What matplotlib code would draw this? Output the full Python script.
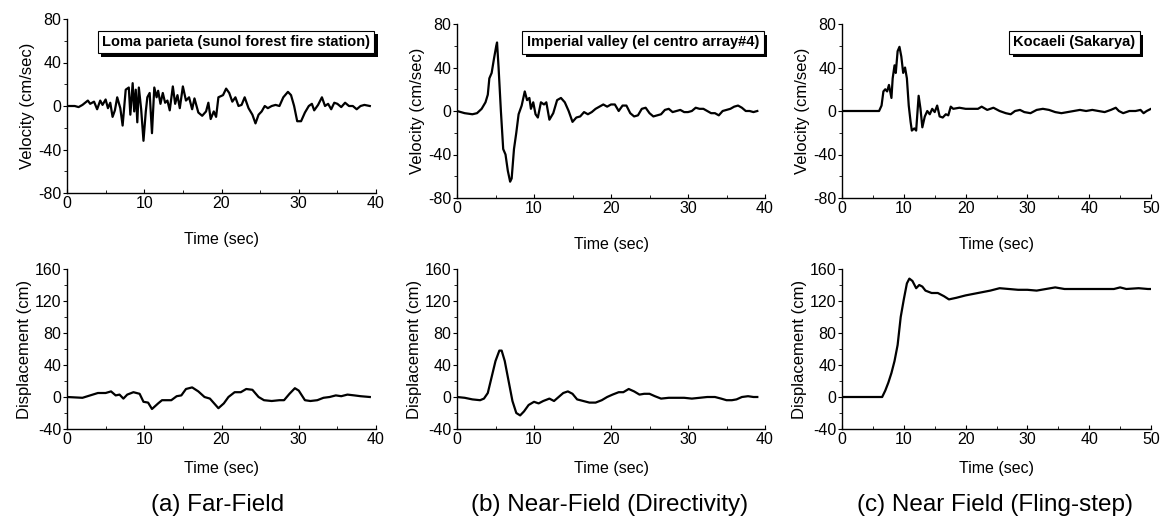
import matplotlib.pyplot as plt
import matplotlib.patheffects as pe
from matplotlib.ticker import MultipleLocator

plt.rcParams['font.family'] = ['Liberation Sans', 'DejaVu Sans']
plt.rcParams['axes.unicode_minus'] = False

# (a) far-field: Loma Prieta, velocity
t_a_vel = [0, 1, 1.5, 2, 2.7, 3, 3.5, 3.9, 4.3, 4.6, 5.0, 5.3, 5.6, 5.9, 6.2, 6.5, 6.9, 7.2, 7.6, 8.0,
           8.2, 8.5, 8.7, 8.9, 9.1, 9.3, 9.6, 9.9, 10.2, 10.4, 10.7, 11.0, 11.3, 11.6, 11.8, 12.1, 12.4,
           12.7, 13.0, 13.3, 13.7, 14.0, 14.3, 14.6, 15.0, 15.4, 15.8, 16.2, 16.5, 17.0, 17.5, 18.0,
           18.3, 18.6, 19.0, 19.3, 19.6, 20.2, 20.6, 21.0, 21.4, 21.8, 22.2, 22.6, 23.0, 23.5, 24.0,
           24.4, 24.8, 25.2, 25.6, 26.0, 26.5, 27.0, 27.5, 28.0, 28.6, 29.0, 29.4, 29.8, 30.3, 30.8,
           31.3, 31.7, 32.0, 32.5, 33.0, 33.4, 33.8, 34.2, 34.6, 35.0, 35.5, 36.0, 36.5, 37.0, 37.5,
           38.0, 38.5, 39.2]
v_a = [0, 0, -1, 1, 5, 2, 4, -3, 5, 1, 6, -2, 3, -10, -4, 8, -2, -18, 15, 17,
       -8, 21, -5, 15, -15, 17, -3, -32, -5, 8, 12, -25, 17, 8, 14, 2, 12,
       3, 5, -4, 18, 2, 10, -2, 18, 5, 8, -3, 7, -6, -9, -5,
       3, -12, -5, -10, 8, 10, 16, 12, 4, 8, 0, 1, 8, -2, -8,
       -16, -8, -5, 0, -2, 0, 1, 0, 8, 13, 10, 0, -14, -14, -6,
       0, 2, -4, 1, 8, 0, 2, -3, 3, 2, -1, 3, 0, 0, -3,
       0, 1, 0]

# (a) displacement
t_a_dis = [0, 2, 3, 4, 5, 5.7, 6.3, 6.8, 7.3, 7.8, 8.6, 9.4, 9.9, 10.5, 11.0, 11.8, 12.3, 13.5, 14.2,
           14.8, 15.4, 16.2, 17.0, 17.8, 18.5, 19.6, 20.3, 20.9, 21.7, 22.5, 23.2, 24.0, 24.8, 25.5,
           26.5, 27.5, 28.1, 28.8, 29.5, 30.0, 30.8, 31.5, 32.4, 33.2, 34.0, 34.8, 35.5, 36.3, 37.2,
           38.0, 39.2]
d_a = [0, -1, 2, 5, 5, 7, 2, 3, -2, 3, 6, 4, -6, -7, -15, -8, -4, -4, 1,
       2, 10, 12, 7, 0, -2, -14, -8, 0, 6, 6, 10, 9, 0, -4,
       -5, -4, -4, 4, 11, 8, -4, -5, -4, -1, 0, 2, 1, 3, 2,
       1, 0]

# (b) near-field directivity: Imperial Valley, velocity
t_b_vel = [0, 1, 2, 2.6, 3.2, 3.7, 4.0, 4.2, 4.5, 4.8, 5.1, 5.2, 5.4, 5.7, 6.0, 6.3, 6.6, 6.9, 7.1,
           7.4, 7.7, 8.0, 8.4, 8.8, 9.1, 9.4, 9.6, 9.9, 10.2, 10.5, 10.9, 11.3, 11.6, 12.0, 12.5,
           13.0, 13.5, 14.0, 14.5, 15.0, 15.5, 16.0, 16.5, 17.0, 17.5, 18.0, 18.5, 19.0, 19.5,
           20.0, 20.5, 21.0, 21.5, 22.0, 22.5, 23.0, 23.5, 24.0, 24.5, 25.0, 25.5, 26.0, 26.5,
           27.0, 27.5, 28.0, 28.5, 29.0, 29.5, 30.0, 30.5, 31.0, 31.5, 32.0, 32.5, 33.0, 33.5,
           34.0, 34.5, 35.0, 35.5, 36.0, 36.5, 37.0, 37.5, 38.0, 38.5, 39.0]
v_b = [0, -2, -3, -2, 2, 8, 15, 30, 35, 48, 60, 63, 40, 0, -35, -40, -55, -65, -62,
       -35, -20, -3, 5, 18, 10, 12, 2, 8, -3, -6, 8, 6, 8, -8, -2,
       10, 12, 8, 0, -10, -6, -5, -1, -3, -1, 2, 4, 6, 4,
       6, 6, 0, 5, 5, -2, -5, -4, 2, 3, -2, -5, -4, -3,
       1, 2, -1, 0, 1, -1, -1, 0, 3, 2, 2, 0, -2, -2,
       -4, 0, 1, 2, 4, 5, 3, 0, 0, -1, 0]

# (b) displacement
t_b_dis = [0, 1, 2, 3, 3.5, 4.0, 4.5, 5.0, 5.5, 5.8, 6.2, 6.7, 7.2, 7.7, 8.2, 8.7, 9.3, 10.0, 10.6,
           11.2, 12.0, 12.6, 13.2, 13.8, 14.4, 15.0, 15.6, 16.4, 17.2, 18.0, 18.8, 19.5, 20.2,
           21.0, 21.6, 22.3, 23.0, 23.7, 24.3, 25.0, 25.7, 26.5, 27.5, 28.5, 29.5, 30.5, 31.5,
           32.5, 33.5, 34.3, 35.0, 35.7, 36.3, 37.0, 37.8, 38.5, 39.0]
d_b = [0, -1, -3, -4, -2, 5, 25, 45, 58, 58, 45, 20, -5, -20, -23, -18, -10, -6, -8,
       -5, -2, -5, 0, 5, 7, 4, -3, -5, -7, -7, -4, 0, 3,
       6, 6, 10, 7, 3, 4, 4, 1, -2, -1, -1, -1, -2, -1,
       0, 0, -2, -4, -4, -3, 0, 1, 0, 0]

# (c) near-field fling-step: Kocaeli, velocity
t_c_vel = [0, 5, 6.0, 6.4, 6.7, 7.0, 7.3, 7.6, 8.0, 8.2, 8.5, 8.7, 9.0, 9.3, 9.6, 9.9, 10.2, 10.5,
           10.8, 11.1, 11.3, 11.7, 12.0, 12.4, 12.7, 13.0, 13.4, 13.8, 14.2, 14.6, 15.0, 15.4,
           15.8, 16.3, 16.8, 17.2, 17.6, 18.0, 19, 20, 21, 22, 22.6, 23.5, 24.5, 25.5, 26.5,
           27.3, 28.0, 28.8, 29.5, 30.5, 31.5, 32.5, 33.5, 34.5, 35.5, 36.5, 37.5, 38.5, 39.5,
           40.5, 41.5, 42.5, 43.5, 44.3, 44.8, 45.5, 46.5, 47.5, 48.3, 48.8, 49.3, 50]
v_c = [0, 0, 0, 5, 18, 20, 18, 24, 12, 30, 42, 35, 55, 59, 50, 35, 40, 30,
       5, -10, -18, -16, -18, 14, 2, -15, -5, 0, -3, 2, -1, 5,
       -5, -6, -3, -4, 4, 2, 3, 2, 2, 2, 4, 1, 3, 0, -2,
       -3, 0, 1, -1, -2, 1, 2, 1, -1, -2, -1, 0, 1, 0,
       1, 0, -1, 1, 3, 0, -2, 0, 0, 1, -2, 0, 2]

# (c) displacement
t_c_dis = [0, 5, 6.5, 7.0, 7.5, 8.0, 8.5, 9.0, 9.5, 10.0, 10.5, 10.9, 11.4, 12.0, 12.5, 13.0, 13.5,
           14.5, 15.5, 16.5, 17.3, 18.5, 20.0, 22.0, 24.0, 25.5, 27.0, 28.5, 30.0, 31.5, 33.0,
           34.5, 36.0, 38.0, 40.0, 42.0, 44.0, 45.0, 46.0, 48.0, 49.5, 50]
d_c = [0, 0, 0, 8, 18, 30, 45, 65, 100, 122, 142, 148, 145, 136, 140, 138, 133,
       130, 130, 126, 122, 124, 127, 130, 133, 136, 135, 134, 134, 133, 135,
       137, 135, 135, 135, 135, 135, 137, 135, 136, 135, 135]

box_labels = ['Loma parieta (sunol forest fire station)', 'Imperial valley (el centro array#4)',
              'Kocaeli (Sakarya)']
captions = ['(a) Far-Field', '(b) Near-Field (Directivity)', '(c) Near Field (Fling-step)']
xmax = [40, 40, 50]

W, H = 1162, 523
fig = plt.figure(figsize=(W / 100, H / 100), dpi=100)


def px_axes(left, top, right, bottom):
    return fig.add_axes([left / W, 1 - bottom / H, (right - left) / W, (bottom - top) / H])


def style(ax, xm, ylim, ystep, ylabel):
    ax.set_xlim(0, xm)
    ax.set_ylim(*ylim)
    ax.xaxis.set_major_locator(MultipleLocator(10))
    ax.xaxis.set_minor_locator(MultipleLocator(5))
    ax.yaxis.set_major_locator(MultipleLocator(ystep))
    ax.yaxis.set_minor_locator(MultipleLocator(ystep / 2))
    for s in ['top', 'right']:
        ax.spines[s].set_visible(False)
    for s in ['left', 'bottom']:
        ax.spines[s].set_linewidth(1.0)
    ax.tick_params(axis='x', which='both', direction='in', labelsize=11.5, pad=2)
    ax.tick_params(axis='x', which='major', length=3)
    ax.tick_params(axis='x', which='minor', length=2)
    ax.tick_params(axis='y', which='both', direction='out', labelsize=11.5, pad=1)
    ax.tick_params(axis='y', which='major', length=3)
    ax.tick_params(axis='y', which='minor', length=2)
    ax.set_xlabel('Time (sec)', fontsize=11.5)
    ax.set_ylabel(ylabel, fontsize=12, labelpad=2)


top_pos = [(67, 19, 376, 193), (457, 24, 765, 198), (842, 24, 1151, 198)]
bot_pos = [(67, 269, 376, 429), (457, 269, 765, 429), (842, 269, 1151, 429)]
vel = [(t_a_vel, v_a), (t_b_vel, v_b), (t_c_vel, v_c)]
dis = [(t_a_dis, d_a), (t_b_dis, d_b), (t_c_dis, d_c)]
box_centers = [(236, 42), (643, 42.5), (1074.5, 42.5)]
caption_x = [218, 610, 995]

for i in range(3):
    ax = px_axes(*top_pos[i])
    ax.plot(vel[i][0], vel[i][1], color='black', lw=1.6)
    style(ax, xmax[i], (-80, 80), 40, 'Velocity (cm/sec)')
    ax.xaxis.labelpad = 15

    ax2 = px_axes(*bot_pos[i])
    ax2.plot(dis[i][0], dis[i][1], color='black', lw=1.6)
    style(ax2, xmax[i], (-40, 160), 40, 'Displacement (cm)')
    ax2.xaxis.labelpad = 10

    bx, by = box_centers[i]
    txt = fig.text(bx / W, 1 - by / H, box_labels[i], ha='center', va='center',
                   fontsize=10.5, fontweight='bold',
                   bbox=dict(boxstyle='square,pad=0.3', fc='white', ec='black', lw=0.8))
    txt.get_bbox_patch().set_path_effects([
        pe.SimplePatchShadow(offset=(2.5, -2.5), shadow_rgbFace='black', alpha=1),
        pe.Normal()])

    fig.text(caption_x[i] / W, 1 - 505 / H, captions[i], ha='center', va='center', fontsize=17.5)

fig.savefig('out.png', dpi=100)
